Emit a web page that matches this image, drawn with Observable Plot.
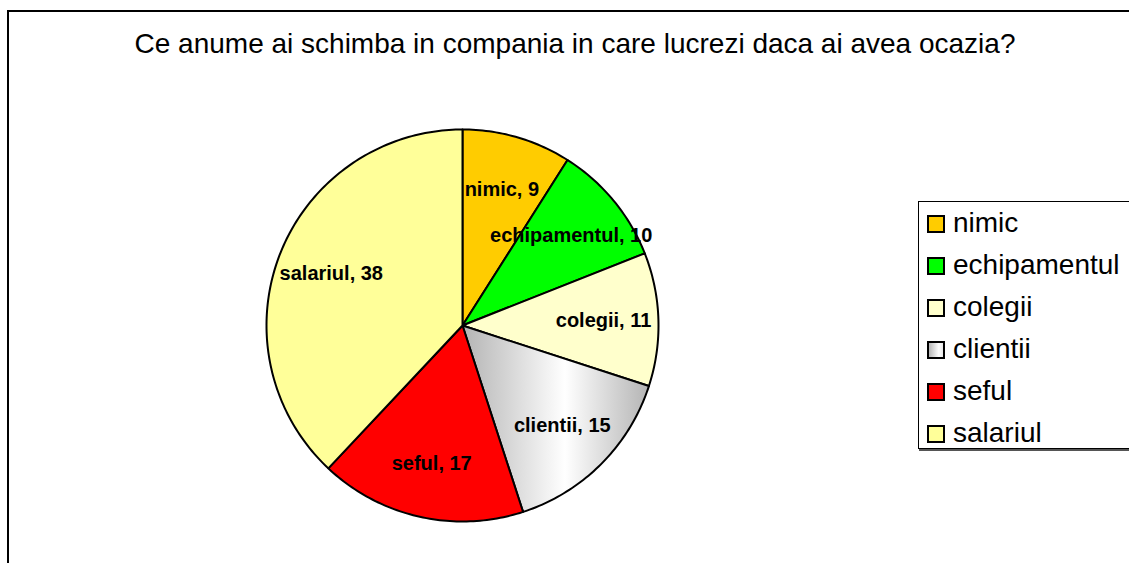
<!DOCTYPE html>
<html>
<head>
<meta charset="utf-8">
<script src="https://cdn.jsdelivr.net/npm/d3@7"></script>
<script src="https://cdn.jsdelivr.net/npm/@observablehq/plot@0.6"></script>
<style>
  html, body { margin: 0; padding: 0; background: #fff; overflow: hidden; }
  #wrap { position: relative; width: 1129px; height: 563px; overflow: hidden; font-family: Arial, "Liberation Sans", sans-serif; }
  #frame { position: absolute; left: 7px; top: 10px; width: 1300px; height: 700px; border-left: 2px solid #000; border-top: 2px solid #000; }
  #title { position: absolute; left: 0; width: 1150px; top: 28px; text-align: center; font-size: 28px; line-height: 32px; color: #000; }
  #chart { position: absolute; left: 0; top: 0; }
  #legend { position: absolute; left: 918px; top: 201px; width: 230px; height: 246px; background: #fff; border: 1px solid #000; box-shadow: 1px 2px 0 #555; }
  .item { height: 42px; line-height: 42px; font-size: 28px; white-space: nowrap; position: relative; padding-left: 34px; color: #000; }
  .sw { position: absolute; left: 8px; top: 13px; width: 14px; height: 14px; border: 2px solid #000; }
</style>
</head>
<body>
<div id="wrap">
  <div id="frame"></div>
  <div id="title"></div>
  <div id="chart"></div>
  <div id="legend"></div>
</div>
<script>
const titleText = "Ce anume ai schimba in compania in care lucrezi daca ai avea ocazia?";
const categories = ["nimic", "echipamentul", "colegii", "clientii", "seful", "salariul"];
const values = [9, 10, 11, 15, 17, 38];
const palette = ["#FFCC00", "#00FF00", "#FFFFCC", "url(#gradClientii)", "#FF0000", "#FFFF99"];
const legendCss = ["#FFCC00", "#00FF00", "#FFFFCC", "linear-gradient(to right, #b8b8b8, #ffffff 70%, #e8e8e8)", "#FF0000", "#FFFF99"];

document.getElementById("title").textContent = titleText;

const total = d3.sum(values);
const slices = [];
let acc = 0;
categories.forEach((c, i) => {
  const a0 = acc / total * 2 * Math.PI;
  acc += values[i];
  const a1 = acc / total * 2 * Math.PI;
  slices.push({cat: c, value: values[i], a0, a1, mid: (a0 + a1) / 2});
});

// polygon points for each slice (angles clockwise from 12 o'clock)
const pts = [];
for (const s of slices) {
  pts.push({cat: s.cat, x: 0, y: 0});
  const n = Math.max(2, Math.ceil((s.a1 - s.a0) / (Math.PI / 180)));
  for (let k = 0; k <= n; k++) {
    const a = s.a0 + (s.a1 - s.a0) * k / n;
    pts.push({cat: s.cat, x: Math.sin(a), y: Math.cos(a)});
  }
  pts.push({cat: s.cat, x: 0, y: 0});
}

const labelR = 0.72;
const labels = slices.map(s => ({
  text: `${s.cat}, ${s.value}`,
  x: labelR * Math.sin(s.mid),
  y: labelR * Math.cos(s.mid)
}));

const defs = () => {
  const d = d3.create("svg:defs");
  const g = d.append("linearGradient").attr("id", "gradClientii")
    .attr("x1", "0").attr("y1", "0").attr("x2", "1").attr("y2", "0");
  g.append("stop").attr("offset", "0").attr("stop-color", "#b4b4b4");
  g.append("stop").attr("offset", "0.55").attr("stop-color", "#ffffff");
  g.append("stop").attr("offset", "1").attr("stop-color", "#b4b4b4");
  return d.node();
};

const cx = 462, cy = 325, R = 196;
const plot = Plot.plot({
  width: 1129,
  height: 563,
  margin: 0,
  style: {background: "transparent", overflow: "visible"},
  x: {domain: [-1, 1], range: [cx - R, cx + R], axis: null},
  y: {domain: [-1, 1], range: [cy + R, cy - R], axis: null},
  color: {domain: categories, range: palette},
  marks: [
    defs,
    Plot.line(pts, {x: "x", y: "y", z: "cat", fill: "cat", stroke: "#000", strokeWidth: 2, strokeLinejoin: "round", curve: "linear"}),
    Plot.text(labels, {x: "x", y: "y", text: "text", fontSize: 20, fontWeight: "bold", fontFamily: "Arial, 'Liberation Sans', sans-serif", fill: "#000"})
  ]
});
document.getElementById("chart").appendChild(plot);

const leg = d3.select("#legend");
categories.forEach((c, i) => {
  const it = leg.append("div").attr("class", "item");
  it.append("span").attr("class", "sw").style("background", legendCss[i]);
  it.append("span").text(c);
});
</script>
</body>
</html>
